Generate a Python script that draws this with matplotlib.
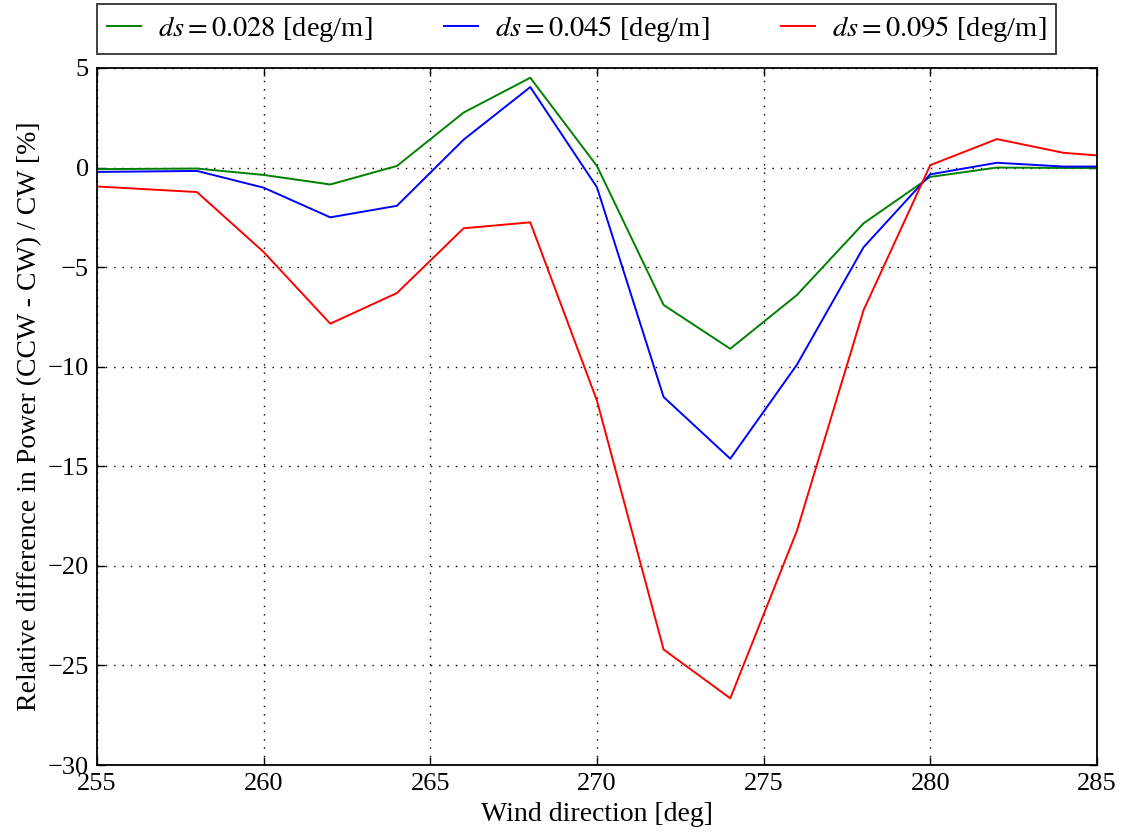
import matplotlib
matplotlib.use("Agg")
import matplotlib.pyplot as plt

# wind direction [deg]
wind_dir = [255, 258, 260, 262, 264, 266, 268, 270, 272, 274, 276, 278, 280, 282, 284, 285]

# relative difference (CCW - CW) / CW [%]
diff_028 = [-0.08, -0.05, -0.37, -0.85, 0.08, 2.76, 4.51, 0.08, -6.9, -9.1,
            -6.4, -2.8, -0.47, 0.0, -0.02, -0.02]
diff_045 = [-0.22, -0.17, -1.01, -2.5, -1.92, 1.40, 4.04, -0.99, -11.52, -14.62,
            -9.9, -4.0, -0.34, 0.24, 0.05, 0.05]
diff_095 = [-0.95, -1.23, -4.24, -7.84, -6.3, -3.05, -2.75, -11.7, -24.2, -26.65,
            -18.24, -7.16, 0.12, 1.43, 0.74, 0.61]

labels = [r"$ds = 0.028$ [deg/m]", r"$ds = 0.045$ [deg/m]", r"$ds = 0.095$ [deg/m]"]
colors = ["green", "blue", "red"]

plt.rcParams["font.family"] = ["Liberation Serif", "DejaVu Serif"]
plt.rcParams["mathtext.fontset"] = "stix"
plt.rcParams["xtick.direction"] = "in"
plt.rcParams["ytick.direction"] = "in"
plt.rcParams["xtick.top"] = True
plt.rcParams["ytick.right"] = True

fig = plt.figure(figsize=(11.21, 8.34), dpi=100)
ax = fig.add_axes([0.0865, 0.0827, 0.892, 0.8358])

for ys, c, lab in zip([diff_028, diff_045, diff_095], colors, labels):
    ax.plot(wind_dir, ys, color=c, lw=1.4, label=lab)

ax.set_xlim(255, 285)
ax.set_ylim(-30, 5)
ax.set_xticks(range(255, 286, 5))
ax.set_yticks(range(-30, 6, 5))
ax.grid(True, color="black", linestyle=(0, (1, 5)), linewidth=1.0)
ax.tick_params(labelsize=19, length=6, width=1, pad=6)
for sp in ax.spines.values():
    sp.set_linewidth(1.3)

ax.set_xlabel("Wind direction [deg]", fontsize=20, labelpad=5)
ax.set_ylabel("Relative difference in Power (CCW - CW) / CW [%]", fontsize=20, labelpad=4)

leg = ax.legend(loc="lower left", bbox_to_anchor=(0.0, 1.02), ncol=3, fontsize=20.5,
                handlelength=1.2, handletextpad=0.6, columnspacing=2.5,
                fancybox=False, borderaxespad=0.0, borderpad=0.35)
leg.get_frame().set_edgecolor("black")
leg.get_frame().set_linewidth(1.3)

fig.savefig("out.png", dpi=100, facecolor="white")
